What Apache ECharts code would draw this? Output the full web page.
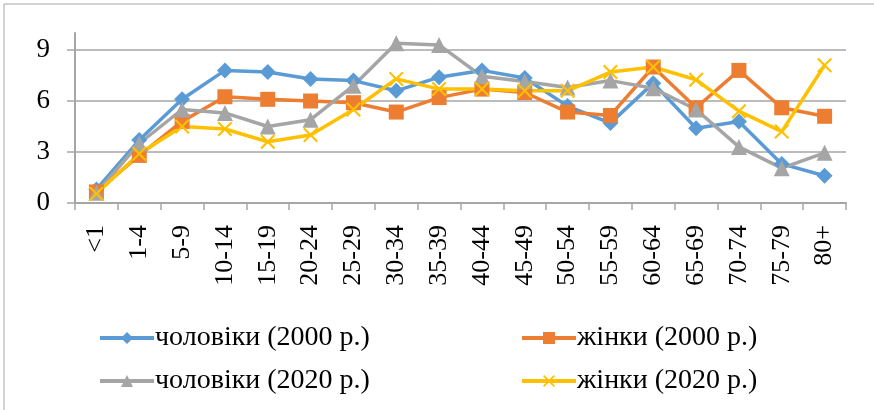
<!DOCTYPE html>
<html>
<head>
<meta charset="utf-8">
<script src="https://cdn.jsdelivr.net/npm/echarts@6/dist/echarts.min.js"></script>
<style>
  html, body { margin: 0; padding: 0; background: #fff; }
  #main { width: 874px; height: 410px; }
</style>
</head>
<body>
<div id="main"></div>
<script>
// вікові групи
var categories = ['<1', '1-4', '5-9', '10-14', '15-19', '20-24', '25-29', '30-34', '35-39',
  '40-44', '45-49', '50-54', '55-59', '60-64', '65-69', '70-74', '75-79', '80+']
var men2000 = [0.8, 3.7, 6.1, 7.8, 7.7, 7.3, 7.2, 6.6, 7.4, 7.8, 7.35, 5.7, 4.7, 7.05, 4.4, 4.8, 2.3, 1.6]
var women2000 = [0.65, 2.8, 4.8, 6.25, 6.1, 6.0, 5.9, 5.35, 6.2, 6.7, 6.5, 5.35, 5.15, 8.0, 5.6, 7.8, 5.6, 5.1]
var men2020 = [0.6, 3.5, 5.5, 5.3, 4.5, 4.9, 6.9, 9.4, 9.3, 7.45, 7.15, 6.8, 7.2, 6.75, 5.5, 3.3, 2.05, 2.95]
var women2020 = [0.55, 2.9, 4.5, 4.35, 3.6, 4.0, 5.5, 7.3, 6.7, 6.7, 6.6, 6.6, 7.7, 8.0, 7.25, 5.4, 4.2, 8.1]
var seriesNames = ['чоловіки (2000 р.)', 'жінки (2000 р.)', 'чоловіки (2020 р.)', 'жінки (2020 р.)']

var serif = '"Liberation Serif", "DejaVu Serif", serif'
var crossPath = 'path://M0,1L1,0L5,4L9,0L10,1L6,5L10,9L9,10L5,6L1,10L0,9L4,5Z'

function makeLine (name, data, color, symbol, size) {
  return {
    name: name,
    type: 'line',
    data: data,
    symbol: symbol,
    symbolSize: size,
    lineStyle: { width: 3.5, color: color },
    itemStyle: { color: color },
    emphasis: { disabled: true }
  }
}

function legendAt (name, left, top) {
  return {
    data: [name],
    left: left,
    top: top,
    itemWidth: 54,
    itemHeight: 15,
    itemGap: 0,
    lineStyle: { width: 4 },
    textStyle: { fontFamily: serif, fontSize: 28, color: '#000', padding: [0, 0, 0, -4] }
  }
}

var option = {
  animation: false,
  color: ['#5B9BD5', '#ED7D31', '#A5A5A5', '#FFC000'],
  graphic: [{
    type: 'rect',
    shape: { x: 4, y: 4, width: 900, height: 420 },
    style: { fill: 'none', stroke: '#a6a6a6', lineWidth: 1 },
    silent: true
  }],
  legend: [
    legendAt(seriesNames[0], 93, 319),
    legendAt(seriesNames[1], 515, 319),
    legendAt(seriesNames[2], 93, 362),
    legendAt(seriesNames[3], 515, 362)
  ],
  grid: { left: 75, right: 28, top: 33, bottom: 207 },
  xAxis: {
    type: 'category',
    data: categories,
    boundaryGap: true,
    axisLine: { lineStyle: { color: '#a6a6a6', width: 2 } },
    axisTick: { show: true, length: 7, lineStyle: { color: '#a6a6a6', width: 1.5 } },
    axisLabel: {
      interval: 0,
      rotate: 90,
      margin: 22,
      fontFamily: serif,
      fontSize: 26,
      color: '#000'
    }
  },
  yAxis: {
    type: 'value',
    min: 0,
    max: 10,
    interval: 3,
    axisLine: { show: true, lineStyle: { color: '#a6a6a6', width: 2 } },
    axisTick: { show: true, length: 8, lineStyle: { color: '#a6a6a6', width: 1.5 } },
    axisLabel: {
      showMaxLabel: false,
      margin: 25,
      fontFamily: serif,
      fontSize: 27,
      color: '#000'
    },
    splitLine: { showMaxLine: false, lineStyle: { color: '#a6a6a6', width: 1.5 } }
  },
  series: [
    makeLine(seriesNames[0], men2000, '#5B9BD5', 'diamond', 16),
    makeLine(seriesNames[1], women2000, '#ED7D31', 'rect', 15),
    makeLine(seriesNames[2], men2020, '#A5A5A5', 'triangle', 16),
    makeLine(seriesNames[3], women2020, '#FFC000', crossPath, 15)
  ]
}

var myChart = echarts.init(document.getElementById('main'))
myChart.setOption(option)
</script>
</body>
</html>
